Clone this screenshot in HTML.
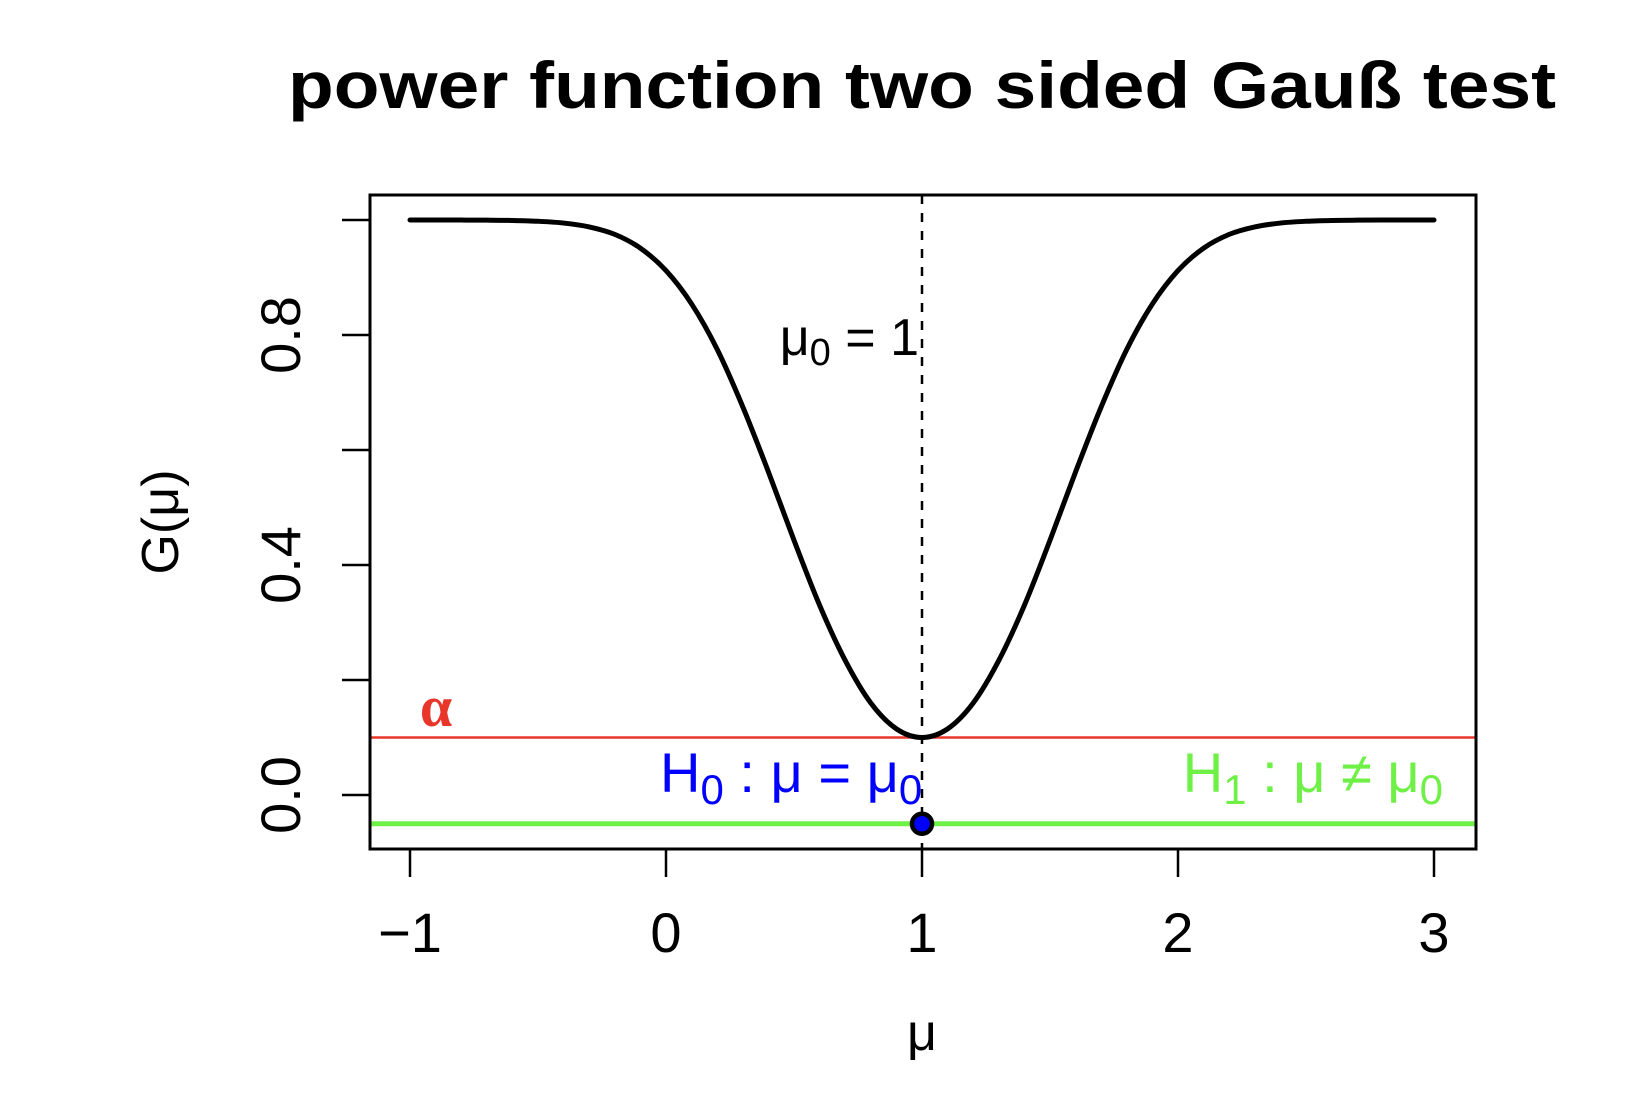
<!DOCTYPE html>
<html><head><meta charset="utf-8"><style>
html,body{margin:0;padding:0;background:#fff;}
svg{display:block;font-family:"Liberation Sans",Arial,sans-serif;}
</style></head><body>
<svg id="chart" width="1636" height="1120" viewBox="0 0 1636 1120" xmlns="http://www.w3.org/2000/svg">
<rect width="1636" height="1120" fill="#fff"/>
<text x="922" y="108" text-anchor="middle" font-size="66" font-weight="bold" textLength="1268" lengthAdjust="spacingAndGlyphs">power function two sided Gauß test</text>
<g id="plot"></g>
<rect x="370" y="195" width="1106" height="654" fill="none" stroke="#000" stroke-width="3"/>
<text transform="translate(178,522) rotate(-90)" text-anchor="middle" font-size="52">G(μ)</text>
<text x="922" y="1050" text-anchor="middle" font-size="52">μ</text>
</svg>
<script>
const xTicks = [-1, 0, 1, 2, 3];
const yTicks = [0, 0.2, 0.4, 0.6, 0.8, 1.0];
const yTickLabels = ["0.0", "", "0.4", "", "0.8", ""];
const mu = [-1,-0.9,-0.8,-0.7,-0.6,-0.5,-0.4,-0.3,-0.2,-0.1,0,0.1,0.2,0.3,0.4,0.5,0.6,0.7,0.8,0.9,1,1.1,1.2,1.3,1.4,1.5,1.6,1.7,1.8,1.9,2,2.1,2.2,2.3,2.4,2.5,2.6,2.7,2.8,2.9,3];
const power = [1,1,0.9999,0.9997,0.9992,0.9978,0.9947,0.988,0.975,0.951,0.912,0.854,0.775,0.675,0.562,0.443,0.330,0.234,0.160,0.115,0.1,0.115,0.160,0.234,0.330,0.443,0.562,0.675,0.775,0.854,0.912,0.951,0.975,0.988,0.9947,0.9978,0.9992,0.9997,0.9999,1,1];
const alpha = 0.1;
const mu0 = 1;
const h1Level = -0.05;

const NS = "http://www.w3.org/2000/svg";
const g = document.getElementById('plot');
const X = v => 666 + (v - 0) * 256;
const Y = v => 795 - v * 575;
function el(tag, attrs, parent) {
  const e = document.createElementNS(NS, tag);
  for (const k in attrs) e.setAttribute(k, attrs[k]);
  (parent || g).appendChild(e);
  return e;
}
xTicks.forEach(t => {
  const l = el('line', {x1: X(t), x2: X(t), y1: 849, y2: 877, stroke: '#000', 'stroke-width': 2.5});
  
  
  const tx = el('text', {x: X(t), y: 952, 'text-anchor': 'middle', 'font-size': 56});
  tx.textContent = t < 0 ? '\u2212' + Math.abs(t) : String(t);
  
  
});
yTicks.forEach((t, i) => {
  const l = el('line', {x1: 342, x2: 370, y1: Y(t), y2: Y(t), stroke: '#000', 'stroke-width': 2.5});
  
  
  if (yTickLabels[i]) {
    const tx = el('text', {transform: `translate(300,${Y(t)}) rotate(-90)`, 'text-anchor': 'middle', 'font-size': 56});
    tx.textContent = yTickLabels[i];
    
    
  }
});
const al = el('line', {x1: 370, x2: 1476, y1: Y(alpha), y2: Y(alpha), stroke: '#e8362a', 'stroke-width': 2.5});


const at = el('text', {x: 436, y: 726, 'text-anchor': 'middle', 'font-size': 58, 'font-weight': 'bold', fill: '#e8362a', 'font-family': '"Liberation Serif",serif'});
at.textContent = 'α';


const hl = el('line', {x1: 370, x2: 1476, y1: Y(h1Level), y2: Y(h1Level), stroke: '#6ff046', 'stroke-width': 5});


const dl = el('line', {x1: X(mu0), x2: X(mu0), y1: 195, y2: 849, stroke: '#000', 'stroke-width': 2.5, 'stroke-dasharray': '9,9'});


const pts = mu.map((m, i) => [X(m), Y(power[i])]);
let d = `M${pts[0][0]},${pts[0][1]}`;
for (let i = 0; i < pts.length - 1; i++) {
  const p0 = pts[Math.max(0, i - 1)], p1 = pts[i], p2 = pts[i + 1], p3 = pts[Math.min(pts.length - 1, i + 2)];
  const c1 = [p1[0] + (p2[0] - p0[0]) / 6, p1[1] + (p2[1] - p0[1]) / 6];
  const c2 = [p2[0] - (p3[0] - p1[0]) / 6, p2[1] - (p3[1] - p1[1]) / 6];
  d += ` C${c1[0]},${c1[1]} ${c2[0]},${c2[1]} ${p2[0]},${p2[1]}`;
}
const cv = el('path', {d: d, fill: 'none', stroke: '#000', 'stroke-width': 5, 'stroke-linecap': 'round', 'stroke-linejoin': 'round'});


const pt = el('circle', {cx: X(mu0), cy: Y(h1Level), r: 10, fill: '#0000ff', stroke: '#000', 'stroke-width': 4.5});


const m0 = el('text', {x: 919, y: 355, 'text-anchor': 'end', 'font-size': 52});
m0.innerHTML = 'μ<tspan font-size="38" dy="10">0</tspan><tspan dy="-10"> = 1</tspan>';


const h0 = el('text', {x: 660, y: 792, 'font-size': 56, fill: '#0000ff'});
h0.innerHTML = 'H<tspan font-size="42" dy="12">0</tspan><tspan dy="-12"> : μ = μ</tspan><tspan font-size="42" dy="12">0</tspan>';


const h1 = el('text', {x: 1443, y: 792, 'text-anchor': 'end', 'font-size': 56, fill: '#6ff046'});
h1.innerHTML = 'H<tspan font-size="42" dy="12">1</tspan><tspan dy="-12"> : μ ≠ μ</tspan><tspan font-size="42" dy="12">0</tspan>';


</script>
</body></html>
